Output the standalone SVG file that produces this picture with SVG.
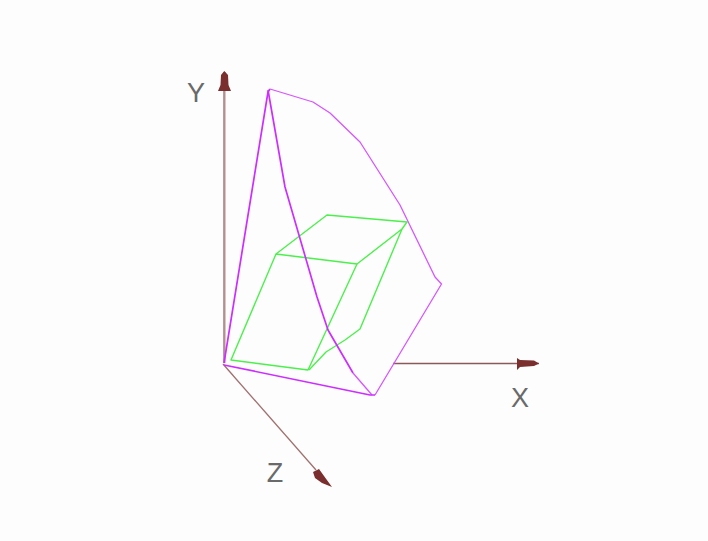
<svg xmlns="http://www.w3.org/2000/svg" width="708" height="541" viewBox="0 0 708 541">
<style>
.axis{fill:none;stroke:#8a5a5a;stroke-width:1.6}
.head{fill:#7a2e2e;stroke:none}
.mag{fill:none;stroke:#cc2eff;stroke-width:1.7;stroke-linejoin:round}
.thin{stroke-width:1.300;stroke:#d655ff}
.gr{fill:none;stroke:#4cf04c;stroke-width:1.4;stroke-linejoin:round}
.lab{font-family:"Liberation Sans",Arial,sans-serif;font-size:27px;fill:#6a6a6a;text-anchor:middle}
</style>
<defs><filter id="soft" x="-5%" y="-5%" width="110%" height="110%"><feGaussianBlur stdDeviation="0.45"/></filter></defs>
<rect width="708" height="541" fill="#fdfdfd"/>
<g id="connectors" filter="url(#soft)">
<path class="axis" d="M224.300 363V72" stroke="#b08a8a" style="stroke:#b48f8f;stroke-width:2.400"/>
<path class="head" d="M224.300 71L228 75L228.500 85L231 91L218 91L220.500 85L221 75Z"/>
<path class="axis" d="M393 363.500H539"/>
<path class="head" d="M517 358L520 360L534 360.500L539 363.500L534 366L520 367L517 370Z"/>
<path class="axis" d="M223 364L316 470" style="stroke:#a07070;stroke-width:1.300"/>
<path class="head" d="M313 472L319 469L324 476L332 487L322 483L315 478Z"/>
</g>
<g id="green-box" filter="url(#soft)">
<path class="gr" d="M231 360L308 370L357 264L276 254Z"/>
<path class="gr" d="M276 254L327 215L407 222L402 229L357 264"/>
<path class="gr" d="M402 229L360 329L345 340L326 352L309 370"/>
</g>
<g id="magenta-solid" filter="url(#soft)">
<path class="mag" d="M224 363L268 92L270 89"/>
<path class="mag thin" d="M270 89L313 102L330 113L360 142L400 205L435 277L441.500 284L375 395"/>
<path class="mag" d="M268 90L285 187L317 297L328 330L353 373"/>
<path class="mag thin" d="M353 373L372 395"/>
<path class="mag" d="M224 365L370 395L375 395"/>
</g>
<g id="label-y"><text class="lab" x="196" y="102">Y</text></g>
<g id="label-x"><text class="lab" x="520" y="407">X</text></g>
<g id="label-z"><text class="lab" x="275" y="482">Z</text></g>
</svg>
